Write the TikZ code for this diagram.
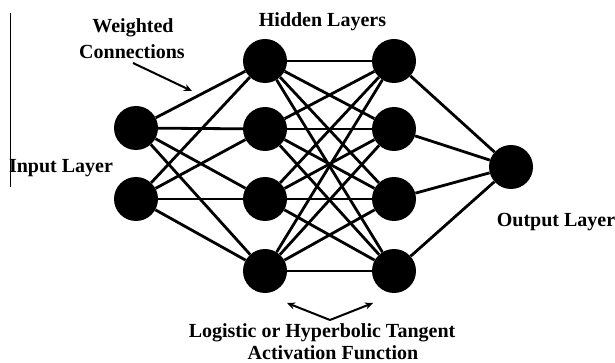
\documentclass[tikz,border=0pt]{standalone}
\usepackage{fontspec}
\setmainfont{Liberation Serif}
\usetikzlibrary{arrows.meta}
\begin{document}
\begin{tikzpicture}[x=1pt,y=-1pt,
  neuron/.style={circle,fill=black,minimum size=44pt,inner sep=0pt},
  lbl/.style={font=\fontsize{20}{22}\selectfont\bfseries,anchor=base,inner sep=0pt},
  link/.style={line width=2.8pt},
  pointer/.style={line width=2pt,-{Stealth[length=8pt,width=7pt]}}]
\useasboundingbox (0,0) rectangle (615,363);
% neurons
\node[neuron] (i1) at (136,128) {};
\node[neuron] (i2) at (136,199) {};
\node[neuron] (a1) at (265,61) {};
\node[neuron] (a2) at (265,129) {};
\node[neuron] (a3) at (265,199) {};
\node[neuron] (a4) at (265,271) {};
\node[neuron] (b1) at (394,61) {};
\node[neuron] (b2) at (394,129) {};
\node[neuron] (b3) at (394,199) {};
\node[neuron] (b4) at (394,271) {};
\node[neuron] (o) at (511,167) {};
% connections
\foreach \s in {i1,i2}{\foreach \t in {a1,a2,a3,a4}{\draw[link] (\s) -- (\t);}}
\foreach \s in {a1,a2,a3,a4}{\foreach \t in {b1,b2,b3,b4}{\draw[link] (\s) -- (\t);}}
\foreach \s in {b1,b2,b3,b4}{\draw[link] (\s) -- (o);}
% labels
\node[lbl] (wl1) at (133,33) {Weighted};
\node[lbl] (wl2) at (132,59) {Connections};
\node[lbl] (hl) at (322.5,27) {Hidden Layers};
\node[lbl] (il) at (61,173) {Input Layer};
\node[lbl] (ol) at (556,227) {Output Layer};
\node[lbl] (al1) at (322,337) {Logistic or Hyperbolic Tangent};
\node[lbl] (al2) at (333,359) {Activation Function};
% side rule
\coordinate (vtop) at (10,13);
\coordinate (vbot) at (10,187);
\draw[line width=0.8pt] (vtop) -- (vbot);
% pointers
\coordinate (wa) at (133,63);
\coordinate (wb) at (192,91);
\draw[pointer] (wa) -- (wb);
\coordinate (apex) at (330,320);
\coordinate (lt) at (287,303);
\coordinate (rt) at (373,303);
\draw[pointer] (apex) -- (lt);
\draw[pointer] (apex) -- (rt);
\end{tikzpicture}
\end{document}
